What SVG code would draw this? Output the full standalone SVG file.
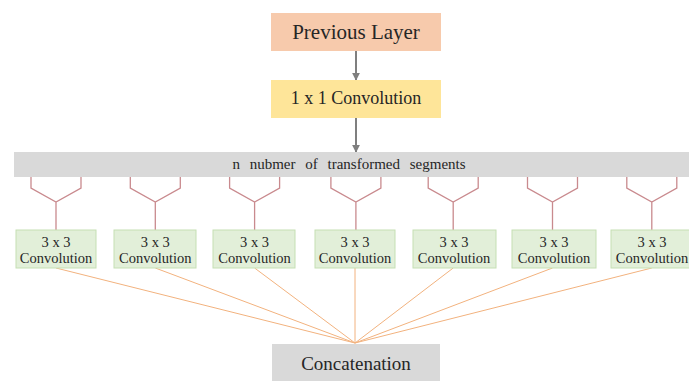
<svg xmlns="http://www.w3.org/2000/svg" width="689" height="381" viewBox="0 0 689 381">
<style>
.conv rect{fill:#e2efd9;stroke:#c5dfb3;stroke-width:1}
.fork{fill:none;stroke:#c98a8e;stroke-width:1.3}
.fan{stroke:#f2b27e;stroke-width:1}
.arrow{stroke:#7f7f7f;stroke-width:2;marker-end:url(#ah)}
</style>
<defs>
<marker id="ah" viewBox="0 0 10 10" refX="9" refY="5" markerWidth="4" markerHeight="4" orient="auto"><path d="M0,0 L10,5 L0,10 z" fill="#7f7f7f"/></marker>
</defs>
<rect width="689" height="381" fill="#ffffff"/>
<g id="connectors">
<line class="arrow" x1="356" y1="51" x2="356" y2="80"/>
<line class="arrow" x1="356" y1="118" x2="356" y2="152"/>
<path class="fork" d="M31,177 V188 L56,202 L81,188 V177 M56,202 V230"/>
<path class="fork" d="M130.3,177 V188 L155.3,202 L180.3,188 V177 M155.3,202 V230"/>
<path class="fork" d="M229.6,177 V188 L254.6,202 L279.6,188 V177 M254.6,202 V230"/>
<path class="fork" d="M330.9,177 V188 L355.9,202 L380.9,188 V177 M355.9,202 V230"/>
<path class="fork" d="M428.2,177 V188 L453.2,202 L478.2,188 V177 M453.2,202 V230"/>
<path class="fork" d="M527.5,177 V188 L552.5,202 L577.5,188 V177 M552.5,202 V230"/>
<path class="fork" d="M626.8,177 V188 L651.8,202 L676.8,188 V177 M651.8,202 V230"/>
<line class="fan" x1="56" y1="268" x2="355" y2="343"/>
<line class="fan" x1="155.3" y1="268" x2="355" y2="343"/>
<line class="fan" x1="254.6" y1="268" x2="355" y2="343"/>
<line class="fan" x1="355" y1="268" x2="355" y2="343"/>
<line class="fan" x1="453.2" y1="268" x2="355" y2="343"/>
<line class="fan" x1="552.5" y1="268" x2="355" y2="343"/>
<line class="fan" x1="651.8" y1="268" x2="355" y2="343"/>
</g>
<g id="prev"><rect x="271" y="13" width="170" height="38" fill="#f7caac"/><text x="356" y="39" font-family="Liberation Serif" font-size="21" fill="#262626" text-anchor="middle">Previous Layer</text></g>
<g id="conv1"><rect x="271" y="80" width="170" height="38" fill="#fee599"/><text x="356" y="104" font-family="Liberation Serif" font-size="18" fill="#262626" text-anchor="middle">1 x 1 Convolution</text></g>
<g id="segments"><rect x="14" y="152" width="680" height="25" fill="#d9d9d9"/><text x="349" y="169" font-family="Liberation Serif" font-size="15" fill="#262626" text-anchor="middle" word-spacing="6">n nubmer of transformed segments</text></g>
<g id="c1" class="conv"><rect x="16" y="230" width="80" height="38"/><text x="56" y="247" font-family="Liberation Serif" font-size="14.5" fill="#262626" text-anchor="middle">3 x 3</text><text x="56" y="263" font-family="Liberation Serif" font-size="14.5" fill="#262626" text-anchor="middle">Convolution</text></g>
<g id="c2" class="conv"><rect x="114" y="230" width="82" height="38"/><text x="155.3" y="247" font-family="Liberation Serif" font-size="14.5" fill="#262626" text-anchor="middle">3 x 3</text><text x="155.3" y="263" font-family="Liberation Serif" font-size="14.5" fill="#262626" text-anchor="middle">Convolution</text></g>
<g id="c3" class="conv"><rect x="213" y="230" width="82" height="38"/><text x="254.6" y="247" font-family="Liberation Serif" font-size="14.5" fill="#262626" text-anchor="middle">3 x 3</text><text x="254.6" y="263" font-family="Liberation Serif" font-size="14.5" fill="#262626" text-anchor="middle">Convolution</text></g>
<g id="c4" class="conv"><rect x="315" y="230" width="80" height="38"/><text x="355" y="247" font-family="Liberation Serif" font-size="14.5" fill="#262626" text-anchor="middle">3 x 3</text><text x="355" y="263" font-family="Liberation Serif" font-size="14.5" fill="#262626" text-anchor="middle">Convolution</text></g>
<g id="c5" class="conv"><rect x="413" y="230" width="83" height="38"/><text x="454" y="247" font-family="Liberation Serif" font-size="14.5" fill="#262626" text-anchor="middle">3 x 3</text><text x="454" y="263" font-family="Liberation Serif" font-size="14.5" fill="#262626" text-anchor="middle">Convolution</text></g>
<g id="c6" class="conv"><rect x="512" y="230" width="84" height="38"/><text x="554" y="247" font-family="Liberation Serif" font-size="14.5" fill="#262626" text-anchor="middle">3 x 3</text><text x="554" y="263" font-family="Liberation Serif" font-size="14.5" fill="#262626" text-anchor="middle">Convolution</text></g>
<g id="c7" class="conv"><rect x="611" y="230" width="84" height="38"/><text x="652" y="247" font-family="Liberation Serif" font-size="14.5" fill="#262626" text-anchor="middle">3 x 3</text><text x="652" y="263" font-family="Liberation Serif" font-size="14.5" fill="#262626" text-anchor="middle">Convolution</text></g>
<g id="concat"><rect x="272" y="344" width="168" height="40" fill="#d9d9d9"/><text x="356" y="370" font-family="Liberation Serif" font-size="19" fill="#262626" text-anchor="middle">Concatenation</text></g>
</svg>
